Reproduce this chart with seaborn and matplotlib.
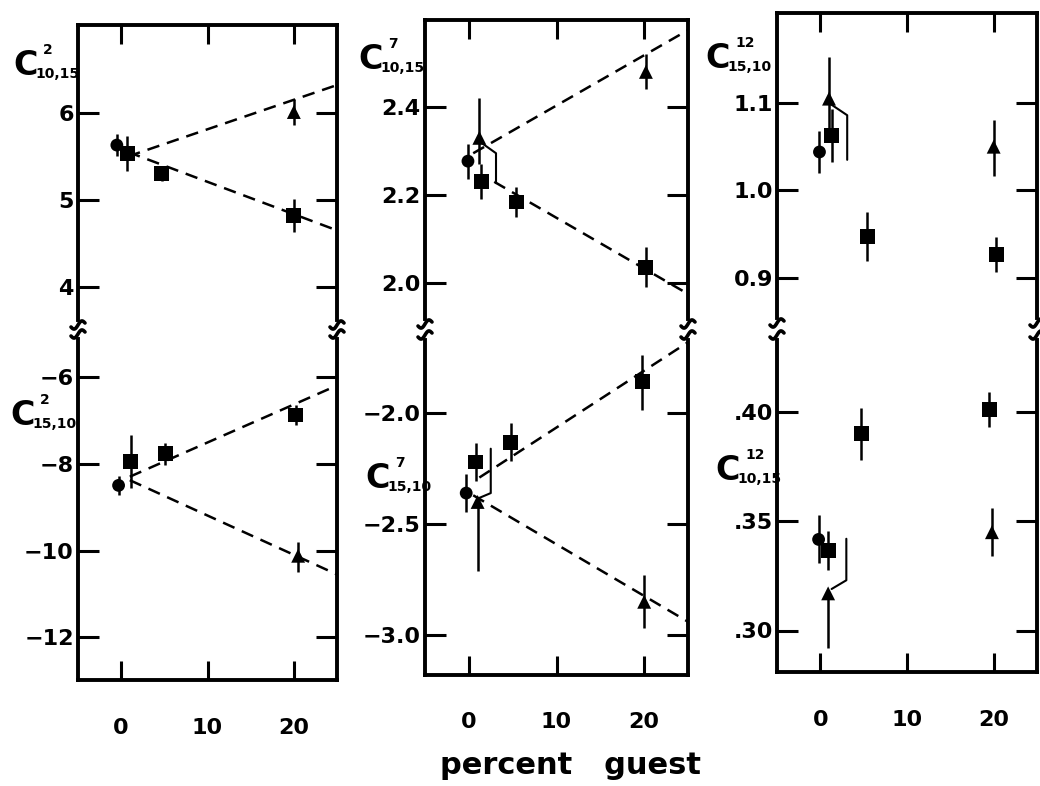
import numpy as np
import pandas as pd
import matplotlib
matplotlib.use("Agg")
import matplotlib.pyplot as plt
from matplotlib.lines import Line2D
import seaborn as sns

W, H = 1040, 786

# valores (percent guest vs constantes)
xticks = [0, 10, 20]

# painel 1 superior: C^2_{10,15}
p1u_x = [-0.5, 0.7, 4.7, 20.0, 20.0]
p1u_y = [5.63, 5.53, 5.30, 4.82, 6.01]
p1u_lo = [0.13, 0.20, 0.08, 0.19, 0.15]
p1u_hi = [0.13, 0.20, 0.08, 0.19, 0.15]
p1u_kind = ["circle", "square", "square", "square", "triangle"]
p1u_fit_x = [[0.8, 25], [0.8, 25]]
p1u_fit_y = [[5.50, 6.32], [5.55, 4.65]]

# painel 1 inferior: C^2_{15,10}
p1l_x = [-0.3, 1.1, 5.1, 20.2, 20.5]
p1l_y = [-8.5, -7.95, -7.77, -6.88, -10.12]
p1l_lo = [0.22, 0.6, 0.25, 0.22, 0.38]
p1l_hi = [0.22, 0.6, 0.25, 0.22, 0.32]
p1l_kind = ["circle", "square", "square", "square", "triangle"]
p1l_fit_x = [[1.0, 25], [1.0, 25]]
p1l_fit_y = [[-8.30, -6.20], [-8.38, -10.55]]

# painel 2 superior: C^7_{10,15}
p2u_x = [-0.1, 1.4, 5.4, 20.2, 1.2, 20.2]
p2u_y = [2.277, 2.23, 2.184, 2.036, 2.33, 2.48]
p2u_lo = [0.04, 0.04, 0.035, 0.045, 0.06, 0.04]
p2u_hi = [0.04, 0.04, 0.035, 0.045, 0.09, 0.04]
p2u_kind = ["circle", "square", "square", "square", "triangle", "triangle"]
p2u_fit_x = [[0.5, 25], [2.9, 25]]
p2u_fit_y = [[2.295, 2.575], [2.23, 1.975]]
p2u_lead_x = [1.2, 3.1, 3.1]
p2u_lead_y = [2.322, 2.295, 2.227]

# painel 2 inferior: C^7_{15,10}
p2l_x = [-0.3, 0.8, 4.8, 19.8, 1.0, 20.0]
p2l_y = [-2.36, -2.22, -2.13, -1.856, -2.40, -2.85]
p2l_lo = [0.085, 0.085, 0.085, 0.13, 0.31, 0.12]
p2l_hi = [0.085, 0.085, 0.085, 0.12, 0.0, 0.12]
p2l_kind = ["circle", "square", "square", "square", "triangle", "triangle"]
p2l_fit_x = [[1.2, 25], [0.5, 25]]
p2l_fit_y = [[-2.29, -1.68], [-2.37, -2.94]]
p2l_lead_x = [1.0, 2.5, 2.5]
p2l_lead_y = [-2.385, -2.36, -2.16]

# painel 3 superior: C^12_{15,10}
p3u_x = [-0.1, 1.3, 5.4, 20.3, 1.0, 20.0]
p3u_y = [1.044, 1.063, 0.947, 0.927, 1.105, 1.05]
p3u_lo = [0.024, 0.03, 0.028, 0.02, 0.04, 0.034]
p3u_hi = [0.024, 0.03, 0.028, 0.02, 0.048, 0.03]
p3u_kind = ["circle", "square", "square", "square", "triangle", "triangle"]
p3u_lead_x = [1.0, 3.1, 3.1]
p3u_lead_y = [1.100, 1.086, 1.035]

# painel 3 inferior: C^12_{10,15}
p3l_x = [-0.2, 0.9, 4.7, 19.5, 0.9, 19.8]
p3l_y = [0.3417, 0.3367, 0.390, 0.401, 0.317, 0.345]
p3l_lo = [0.011, 0.009, 0.012, 0.008, 0.025, 0.011]
p3l_hi = [0.011, 0.009, 0.012, 0.008, 0.0, 0.011]
p3l_kind = ["circle", "square", "square", "square", "triangle", "triangle"]
p3l_lead_x = [1.3, 3.0, 3.0]
p3l_lead_y = [0.319, 0.323, 0.342]

# ticks do eixo y
p1u_ticks = [4, 5, 6]
p1u_labels = ["4", "5", "6"]
p1l_ticks = [-12, -10, -8, -6]
p1l_labels = ["\u221212", "\u221210", "\u22128", "\u22126"]
p2u_ticks = [2.0, 2.2, 2.4]
p2u_labels = ["2.0", "2.2", "2.4"]
p2l_ticks = [-3.0, -2.5, -2.0]
p2l_labels = ["\u22123.0", "\u22122.5", "\u22122.0"]
p3u_ticks = [0.9, 1.0, 1.1]
p3u_labels = ["0.9", "1.0", "1.1"]
p3l_ticks = [0.30, 0.35, 0.40]
p3l_labels = [".30", ".35", ".40"]

# rotulos C^sup_sub
lab_sup = ["2", "2", "7", "7", "12", "12"]
lab_sub = ["10,15", "15,10", "10,15", "15,10", "15,10", "10,15"]

MARKERS = {"circle": "o", "square": "s", "triangle": "^"}
SIZES = {"circle": 85, "square": 115, "triangle": 100}

sns.set_style("ticks")
plt.rcParams["font.family"] = ["DejaVu Sans"]
plt.rcParams["font.weight"] = "bold"
for key in ["text.color", "axes.labelcolor", "xtick.color", "ytick.color", "axes.edgecolor"]:
    plt.rcParams[key] = "black"

fig = plt.figure(figsize=(W / 100, H / 100), dpi=100)
fig.patch.set_facecolor("white")


def px_axes(l, r, t, b):
    return fig.add_axes([l / W, 1 - b / H, (r - l) / W, (b - t) / H])


def draw_half(ax, x, y, lo, hi, kind, fits=None, lead=None):
    df = pd.DataFrame({"x": x, "y": y, "kind": kind})
    ax.errorbar(x, y, yerr=[lo, hi], fmt="none", ecolor="black",
                elinewidth=1.8, capsize=0, zorder=2)
    sns.scatterplot(data=df, x="x", y="y", style="kind", markers=MARKERS,
                    size="kind", sizes=SIZES, color="black", edgecolor="black",
                    linewidth=0, legend=False, ax=ax, zorder=3)
    if fits is not None:
        for fx, fy in zip(*fits):
            ax.plot(fx, fy, color="black", lw=1.8, ls=(0, (5, 3.2)), zorder=1)
    if lead is not None:
        ax.plot(lead[0], lead[1], color="black", lw=1.5, zorder=2)
    ax.set_xlabel("")
    ax.set_ylabel("")


def style_half(ax, upper, ylim, ticks, labels):
    ax.set_xlim(-5, 25)
    ax.set_ylim(*ylim)
    ax.set_xticks(xticks)
    ax.set_yticks(ticks)
    ax.set_yticklabels(labels)
    for side in ["left", "right", "top", "bottom"]:
        ax.spines[side].set_linewidth(2.8)
        ax.spines[side].set_color("black")
    if upper:
        ax.spines["bottom"].set_visible(False)
        ax.tick_params(axis="x", direction="in", top=True, bottom=False,
                       labelbottom=False, length=14, width=2.2)
    else:
        ax.spines["top"].set_visible(False)
        ax.set_xticklabels([str(t) for t in xticks])
        ax.tick_params(axis="x", direction="in", top=False, bottom=True,
                       labelbottom=True, length=14, width=2.2, pad=27,
                       labelsize=16)
    ax.tick_params(axis="y", direction="in", left=True, right=True,
                   length=15, width=2.2, pad=3, labelsize=16)
    ax.set_facecolor("white")


panels = [
    dict(l=78, r=337, ut=25, ub=320, lt=339, lb=680,
         ulim=(3.62, 7.01), llim=(-12.98, -5.13)),
    dict(l=425, r=688, ut=20, ub=319, lt=340, lb=675,
         ulim=(1.918, 2.598), llim=(-3.18, -1.67)),
    dict(l=777, r=1037, ut=13, ub=318, lt=340, lb=672,
         ulim=(0.854, 1.203), llim=(0.281, 0.433)),
]

# painel 1
pp = panels[0]
ax = px_axes(pp["l"], pp["r"], pp["ut"], pp["ub"])
draw_half(ax, p1u_x, p1u_y, p1u_lo, p1u_hi, p1u_kind, fits=(p1u_fit_x, p1u_fit_y))
style_half(ax, True, pp["ulim"], p1u_ticks, p1u_labels)
ax = px_axes(pp["l"], pp["r"], pp["lt"], pp["lb"])
draw_half(ax, p1l_x, p1l_y, p1l_lo, p1l_hi, p1l_kind, fits=(p1l_fit_x, p1l_fit_y))
style_half(ax, False, pp["llim"], p1l_ticks, p1l_labels)

# painel 2
pp = panels[1]
ax = px_axes(pp["l"], pp["r"], pp["ut"], pp["ub"])
draw_half(ax, p2u_x, p2u_y, p2u_lo, p2u_hi, p2u_kind,
          fits=(p2u_fit_x, p2u_fit_y), lead=(p2u_lead_x, p2u_lead_y))
style_half(ax, True, pp["ulim"], p2u_ticks, p2u_labels)
ax = px_axes(pp["l"], pp["r"], pp["lt"], pp["lb"])
draw_half(ax, p2l_x, p2l_y, p2l_lo, p2l_hi, p2l_kind,
          fits=(p2l_fit_x, p2l_fit_y), lead=(p2l_lead_x, p2l_lead_y))
style_half(ax, False, pp["llim"], p2l_ticks, p2l_labels)

# painel 3
pp = panels[2]
ax = px_axes(pp["l"], pp["r"], pp["ut"], pp["ub"])
draw_half(ax, p3u_x, p3u_y, p3u_lo, p3u_hi, p3u_kind, lead=(p3u_lead_x, p3u_lead_y))
style_half(ax, True, pp["ulim"], p3u_ticks, p3u_labels)
ax = px_axes(pp["l"], pp["r"], pp["lt"], pp["lb"])
draw_half(ax, p3l_x, p3l_y, p3l_lo, p3l_hi, p3l_kind, lead=(p3l_lead_x, p3l_lead_y))
style_half(ax, False, pp["llim"], p3l_ticks, p3l_labels)

# simbolos de quebra (dois tils sobre cada eixo vertical)
wave_t = np.linspace(-1, 1, 25)
for pp in panels:
    for xs in (pp["l"], pp["r"]):
        for yc in (pp["ub"] + 5, pp["lt"] - 5):
            xs_px = xs + 7 * wave_t
            ys_px = yc - 3 * np.sin(np.pi * wave_t) - 2 * wave_t
            fig.add_artist(Line2D(xs_px / W, 1 - ys_px / H, color="black",
                                  lw=2.6, transform=fig.transFigure))

# rotulos das constantes: C grande, indices pequenos
lab_pos = [(13, 75), (10, 425), (358, 69), (365, 488), (705, 68), (715, 480)]
for (xl, yb), sup, sub in zip(lab_pos, lab_sup, lab_sub):
    fig.text(xl / W, 1 - yb / H, "C", fontsize=24, fontweight="heavy",
             ha="left", va="baseline")
    fig.text((xl + 30) / W, 1 - (yb - 21) / H, sup, fontsize=10,
             ha="left", va="baseline")
    fig.text((xl + 22) / W, 1 - (yb + 3) / H, sub, fontsize=10,
             ha="left", va="baseline")

fig.text(570 / W, 1 - 774 / H, "percent   guest", fontsize=22,
         fontweight="bold", ha="center", va="baseline")

fig.savefig("out.png", dpi=100, facecolor="white")
